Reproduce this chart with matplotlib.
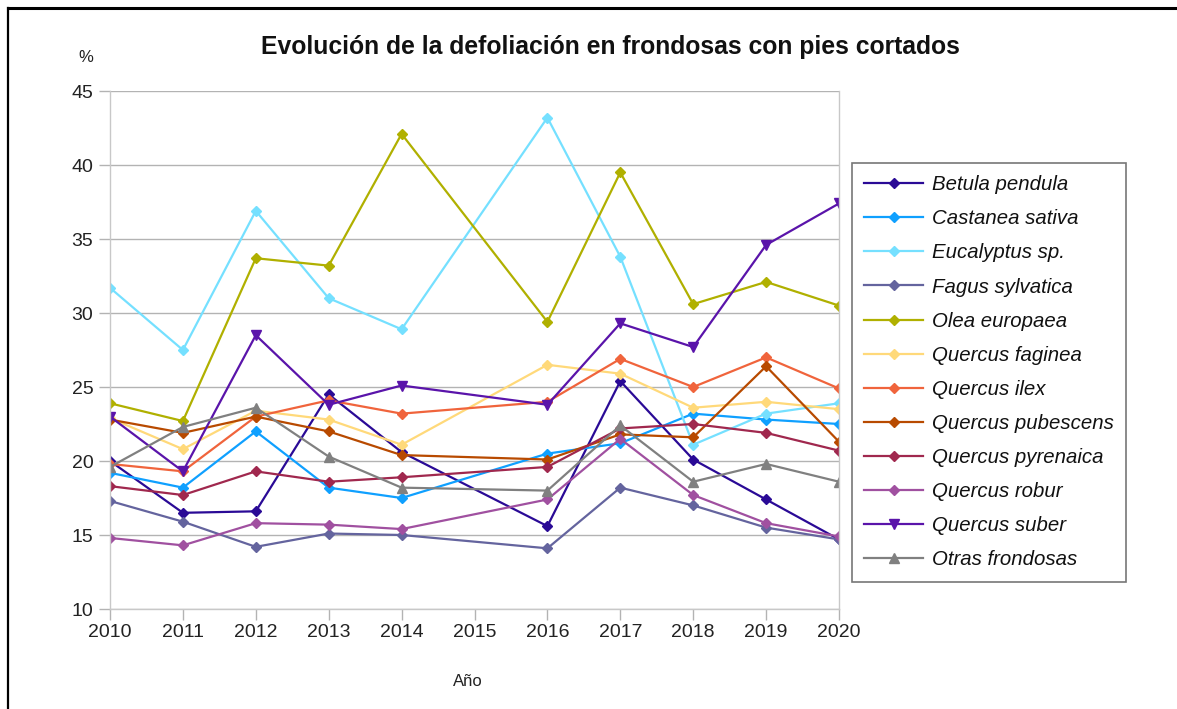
import numpy as np
from matplotlib import pyplot as plt
from matplotlib.lines import Line2D

plt.rcParams['font.family'] = ['Liberation Sans', 'DejaVu Sans']

# 2015 has no data; lines go straight from 2014 to 2016
years = [2010, 2011, 2012, 2013, 2014, 2016, 2017, 2018, 2019, 2020]

betula     = [20.0, 16.5, 16.6, 24.5, 20.6, 15.6, 25.4, 20.1, 17.4, 14.7]
castanea   = [19.2, 18.2, 22.0, 18.2, 17.5, 20.5, 21.2, 23.2, 22.8, 22.5]
eucalyptus = [31.7, 27.5, 36.9, 31.0, 28.9, 43.2, 33.8, 21.1, 23.2, 23.9]
fagus      = [17.3, 15.9, 14.2, 15.1, 15.0, 14.1, 18.2, 17.0, 15.5, 14.7]
olea       = [23.9, 22.7, 33.7, 33.2, 42.1, 29.4, 39.5, 30.6, 32.1, 30.5]
faginea    = [22.9, 20.8, 23.4, 22.8, 21.1, 26.5, 25.9, 23.6, 24.0, 23.5]
ilex       = [19.8, 19.3, 23.0, 24.1, 23.2, 24.0, 26.9, 25.0, 27.0, 24.9]
pubescens  = [22.8, 21.9, 23.0, 22.0, 20.4, 20.1, 21.8, 21.6, 26.4, 21.3]
pyrenaica  = [18.3, 17.7, 19.3, 18.6, 18.9, 19.6, 22.2, 22.5, 21.9, 20.7]
robur      = [14.8, 14.3, 15.8, 15.7, 15.4, 17.4, 21.5, 17.7, 15.8, 14.9]
suber      = [23.0, 19.3, 28.5, 23.8, 25.1, 23.8, 29.3, 27.7, 34.6, 37.4]
otras      = [19.6, 22.3, 23.6, 20.3, 18.2, 18.0, 22.4, 18.6, 19.8, 18.6]

series = [
    ('Betula pendula', betula, '#2a0a96', 'D'),
    ('Castanea sativa', castanea, '#0fa0ff', 'D'),
    ('Eucalyptus sp.', eucalyptus, '#75e0ff', 'D'),
    ('Fagus sylvatica', fagus, '#64649e', 'D'),
    ('Olea europaea', olea, '#b0b000', 'D'),
    ('Quercus faginea', faginea, '#ffd97a', 'D'),
    ('Quercus ilex', ilex, '#f0643c', 'D'),
    ('Quercus pubescens', pubescens, '#b84a00', 'D'),
    ('Quercus pyrenaica', pyrenaica, '#a0284e', 'D'),
    ('Quercus robur', robur, '#a050a0', 'D'),
    ('Quercus suber', suber, '#5a14aa', 'v'),
    ('Otras frondosas', otras, '#808080', '^'),
]

fig = plt.figure(figsize=(11.77, 7.09), dpi=100)
ax = fig.add_axes([110/1177, 1-609/709, (839-110)/1177, (609-91)/709])

for name, vals, col, mk in series:
    ms = 5 if mk == 'D' else 7.5
    ax.plot(years, vals, color=col, lw=1.6, marker=mk, markersize=ms, label=name)

ax.set_xlim(2010, 2020)
ax.set_ylim(10, 45)
ax.set_xticks(range(2010, 2021))
ax.set_yticks(range(10, 46, 5))
ax.yaxis.grid(True, color='#b3b3b3', lw=1)
ax.set_axisbelow(True)
ax.spines['top'].set_visible(False)
for s in ['left', 'right', 'bottom']:
    ax.spines[s].set_color('#c8c8c8')
    ax.spines[s].set_linewidth(1)
ax.tick_params(colors='#b3b3b3', labelcolor='#222222', labelsize=14, length=8, width=1)
ax.tick_params(axis='y', pad=4)
ax.tick_params(axis='x', pad=3)

fig.text(0.5*(258+963)/1177, 1-47/709, 'Evolución de la defoliación en frondosas con pies cortados',
         ha='center', va='center', fontsize=17.8, fontweight='bold', color='#111111')
fig.text(86/1177, 1-58/709, '%', ha='center', va='center', fontsize=12, color='#222222')
fig.text(468/1177, 1-682/709, 'Año', ha='center', va='center', fontsize=12, color='#222222')

leg = fig.legend(loc='upper left', bbox_to_anchor=(852/1177, 1-163/709), borderaxespad=0,
                 fontsize=14.7, frameon=True, fancybox=False, edgecolor='#555555',
                 labelspacing=0.74, handlelength=2.9, borderpad=0.6, handletextpad=0.4)
leg.get_frame().set_linewidth(1.2)
for t in leg.get_texts():
    t.set_fontstyle('italic')
    t.set_color('#111111')

# black frame lines on top and left of the picture
fig.add_artist(Line2D([8/1177, 1], [1-7.5/709, 1-7.5/709], color='black', lw=2.2, transform=fig.transFigure))
fig.add_artist(Line2D([8/1177, 8/1177], [0, 1-7.5/709], color='black', lw=1.6, transform=fig.transFigure))

plt.savefig('out.png', dpi=100)
